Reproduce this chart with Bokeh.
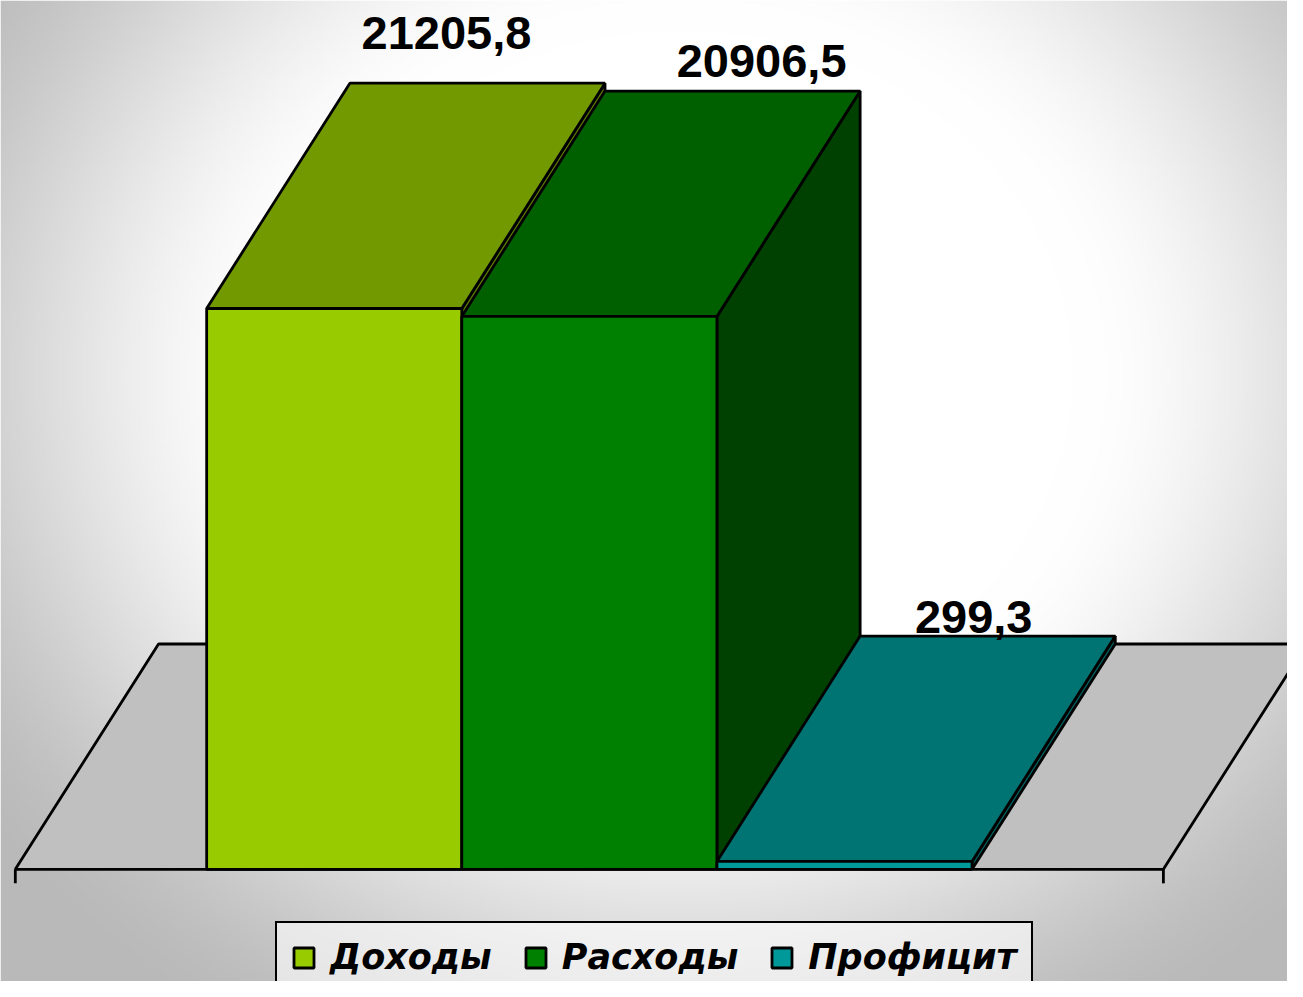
import numpy as np
from bokeh.plotting import figure
from bokeh.models import ColumnDataSource, Range1d, Legend, LegendItem
from bokeh.embed import file_html
from bokeh.resources import INLINE
from bokeh.core.properties import value

# ---------------- data ----------------
categories = ["Доходы", "Расходы", "Профицит"]
values = [21205.8, 20906.5, 299.3]
value_labels = ["21205,8", "20906,5", "299,3"]

# ---------------- styles ----------------
front_colors = ["#99CC00", "#008000", "#009999"]
top_colors = ["#739900", "#006000", "#007373"]
side_colors = ["#5C7A00", "#004000", "#005F5F"]
floor_color = "#C0C0C0"

# label nudges in screen pixels (layout only)
label_dx = [-31, 29, -14]
label_dy = [-50, -30, -19]

# ---------------- layout / scales ----------------
W, H = 1287, 981
SX, SY = W / 1303, H / 997
PX_PER_BAR = 258.3 * SX            # screen px per bar width
PX_PER_VAL = 570 * SY / 21205.8    # screen px per value unit
gap = 0.75                         # half of 150% gap width
n = len(values)
span = n + 2 * gap
depth_px = (145 * SX, 229 * SY)
tick_px = 14
LW = 2.8

x_start = -15 * SX / PX_PER_BAR
x_end = x_start + W / PX_PER_BAR
y_start = -(H - 883 * SY) / PX_PER_VAL
y_end = y_start + H / PX_PER_VAL

ddx = depth_px[0] * (x_end - x_start) / W
ddy = depth_px[1] * (y_end - y_start) / H
tick = tick_px * (y_end - y_start) / H

p = figure(width=W, height=H, x_range=Range1d(x_start, x_end), y_range=Range1d(y_start, y_end),
           output_backend="svg", toolbar_location=None, min_border=0,
           x_axis_type=None, y_axis_type=None, outline_line_color=None,
           background_fill_color="white", border_fill_color="white")
p.grid.visible = False

# ---------------- background vignette ----------------
ds = 3
gw, gh = W // ds + 1, H // ds + 1
xx, yy = np.meshgrid(np.arange(gw) * ds / SX, np.arange(gh) * ds / SY)
cx, cy, rx, ry = 690.0, 380.0, 720.0, 640.0
t = np.sqrt(((xx - cx) / rx) ** 2 + ((yy - cy) / ry) ** 2)
s = np.clip((t - 0.55) / (1.25 - 0.55), 0, 1)
s = s * s * (3 - 2 * s)
g = (255 - 70 * s).astype(np.uint8)
img = np.empty((gh, gw), dtype=np.uint32)
view = img.view(dtype=np.uint8).reshape((gh, gw, 4))
view[:, :, 0] = g
view[:, :, 1] = g
view[:, :, 2] = g
view[:, :, 3] = 255
img = img[::-1, :].copy()
p.image_rgba(image=[img], x=x_start, y=y_start, dw=x_end - x_start, dh=y_end - y_start)

# ---------------- floor ----------------
p.patch(x=[0, span, span + ddx, ddx], y=[0, 0, ddy, ddy],
        fill_color=floor_color, line_color="black", line_width=LW)
p.segment(x0=[0, span], y0=[0, 0], x1=[0, span], y1=[-tick, -tick],
          line_color="black", line_width=LW)

# ---------------- bars ----------------
x0s = [gap + i for i in range(n)]
x1s = [x + 1 for x in x0s]

side_xs = [[x1, x1 + ddx, x1 + ddx, x1] for x1 in x1s]
side_ys = [[0, ddy, v + ddy, v] for v in values]
top_xs = [[x0, x1, x1 + ddx, x0 + ddx] for x0, x1 in zip(x0s, x1s)]
top_ys = [[v, v, v + ddy, v + ddy] for v in values]

p.patches(xs=side_xs, ys=side_ys, fill_color=side_colors, line_color="black", line_width=LW)
p.patches(xs=top_xs, ys=top_ys, fill_color=top_colors, line_color="black", line_width=LW)

src = ColumnDataSource(dict(left=x0s, right=x1s, bottom=[0] * n, top=values,
                            color=front_colors, cat=categories))
front = p.quad(left="left", right="right", bottom="bottom", top="top", source=src,
               fill_color="color", line_color="black", line_width=LW)

# ---------------- value labels ----------------
lab_x = [x0 + 0.5 + ddx for x0 in x0s]
lab_y = [v + ddy for v in values]
p.text(x=lab_x, y=lab_y, text=value_labels, x_offset=label_dx, y_offset=label_dy,
       text_font=value("Liberation Sans"), text_font_style="bold", text_font_size="47px",
       text_color="black", text_align="center", text_baseline="alphabetic")

# ---------------- legend ----------------
legend = Legend(items=[LegendItem(label=categories[i], renderers=[front], index=i) for i in range(n)],
                orientation="horizontal", location=(int(279 * SX), -12),
                label_text_font="DejaVu Sans", label_text_font_style="bold italic",
                label_text_font_size="35px", label_text_color="black",
                glyph_width=25, glyph_height=25, label_standoff=14, spacing=31,
                padding=14, margin=0, border_line_color="black", border_line_width=2.5,
                border_line_alpha=1.0,
                background_fill_color="white", background_fill_alpha=0.6)
p.add_layout(legend)

open("out.html", "w").write(file_html(p, INLINE))
